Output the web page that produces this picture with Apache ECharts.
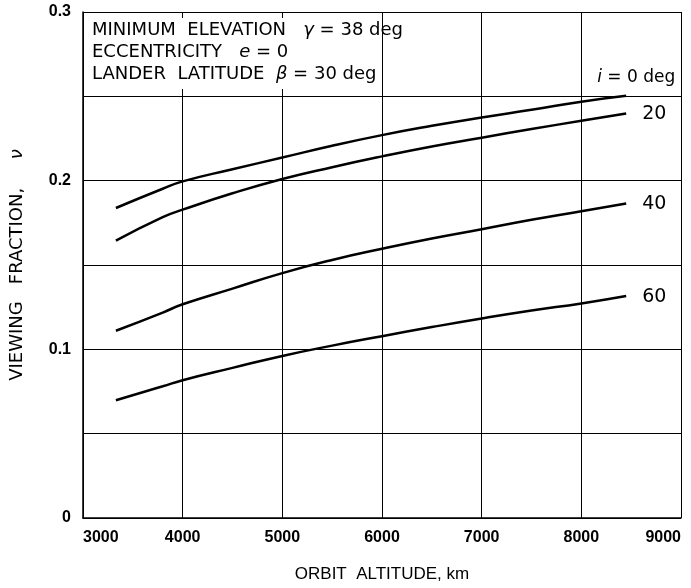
<!DOCTYPE html>
<html>
<head>
<meta charset="utf-8">
<script src="https://cdn.jsdelivr.net/npm/echarts@6/dist/echarts.min.js"></script>
<style>
  html, body { margin: 0; padding: 0; background: #fff; }
  #chart { width: 691px; height: 588px; }
</style>
</head>
<body>
<div id="chart"></div>
<script>
// Orbit altitude (km) sample points along each curve
const altitudes = [3330, 3800, 4000, 4500, 5000, 5500, 6000, 6500, 7000, 7500, 8000, 8450];

// Viewing fraction for each orbit inclination
const inc0  = [0.1838, 0.1952, 0.1996, 0.2068, 0.2137, 0.2207, 0.2270, 0.2325, 0.2375, 0.2420, 0.2468, 0.2503];
const inc20 = [0.1645, 0.1784, 0.1828, 0.1925, 0.2010, 0.2080, 0.2144, 0.2203, 0.2255, 0.2306, 0.2355, 0.2398];
const inc40 = [0.1110, 0.1218, 0.1267, 0.1360, 0.1452, 0.1530, 0.1596, 0.1657, 0.1712, 0.1768, 0.1819, 0.1865];
const inc60 = [0.0698, 0.0781, 0.0817, 0.0890, 0.0961, 0.1022, 0.1078, 0.1132, 0.1183, 0.1230, 0.1272, 0.1316];

const seriesNames = ['0', '20', '40', '60'];
const seriesValues = [inc0, inc20, inc40, inc60];

// Y tick labels shown only at every other grid line
const yTickLabels = { '0': '0', '0.1': '0.1', '0.2': '0.2', '0.3': '0.3' };

const SANS = '"Liberation Sans", Arial, sans-serif';
const WIDE = '"DejaVu Sans", Verdana, sans-serif';

const chart = echarts.init(document.getElementById('chart'), null, { renderer: 'canvas' });

const series = seriesValues.map((vals, k) => ({
  name: seriesNames[k],
  type: 'line',
  smooth: true,
  showSymbol: false,
  silent: true,
  z: 5,
  lineStyle: { color: '#000', width: 2.5 },
  data: altitudes.map((a, j) => [a, vals[j]]),
  endLabel: {
    show: true,
    color: '#000',
    fontFamily: WIDE,
    fontSize: k === 0 ? 17 : 19,
    distance: k === 0 ? 13 : 16,
    offset: k === 0 ? [-42, -18] : [0, 1],
    formatter: k === 0 ? '{it|i} = 0 deg' : seriesNames[k],
    rich: { it: { fontStyle: 'italic', fontFamily: WIDE, fontSize: 17, color: '#000' } }
  }
}));

chart.setOption({
  animation: false,
  backgroundColor: '#fff',
  grid: { left: 82, right: 10, top: 12, bottom: 62, containLabel: false },
  xAxis: {
    type: 'value',
    min: 3000,
    max: 9000,
    interval: 1000,
    name: 'ORBIT  ALTITUDE, km',
    nameLocation: 'middle',
    nameGap: 48,
    nameTextStyle: { color: '#000', fontFamily: SANS, fontSize: 17 },
    axisLine: { show: true, lineStyle: { color: '#000', width: 1.5 } },
    axisTick: { show: false },
    axisLabel: {
      color: '#000', fontFamily: SANS, fontSize: 16, fontWeight: 'bold',
      margin: 12, alignMinLabel: 'left', alignMaxLabel: 'right',
      formatter: v => String(v)
    },
    splitLine: { show: true, lineStyle: { color: '#000', width: 1 } }
  },
  yAxis: {
    type: 'value',
    min: 0,
    max: 0.3,
    interval: 0.05,
    name: 'VIEWING   FRACTION,     {it|ν}',
    nameLocation: 'middle',
    nameGap: 57,
    nameTextStyle: {
      color: '#000', fontFamily: WIDE, fontSize: 18,
      rich: { it: { fontStyle: 'italic', fontFamily: WIDE, fontSize: 18, color: '#000' } }
    },
    axisLine: { show: true, lineStyle: { color: '#000', width: 1.5 } },
    axisTick: { show: false },
    axisLabel: {
      color: '#000', fontFamily: SANS, fontSize: 16, fontWeight: 'bold', margin: 12,
      formatter: v => yTickLabels[String(Math.round(v * 100) / 100)] || ''
    },
    splitLine: { show: true, lineStyle: { color: '#000', width: 1 } }
  },
  graphic: [
    {
      type: 'rect',
      z: 3,
      shape: { x: 84, y: 18, width: 294, height: 71 },
      style: { fill: '#fff' },
      silent: true
    },
    {
      type: 'text',
      z: 4,
      left: 92,
      top: 19,
      style: {
        text: 'MINIMUM  ELEVATION   {it|γ} = 38 deg\nECCENTRICITY   {it|e} = 0\nLANDER  LATITUDE  {it|β} = 30 deg',
        fill: '#000',
        font: '18px ' + WIDE,
        lineHeight: 22,
        rich: { it: { fontStyle: 'italic', fontFamily: WIDE, fontSize: 18, fill: '#000', lineHeight: 22 } }
      }
    }
  ],
  series: series
});
</script>
</body>
</html>
